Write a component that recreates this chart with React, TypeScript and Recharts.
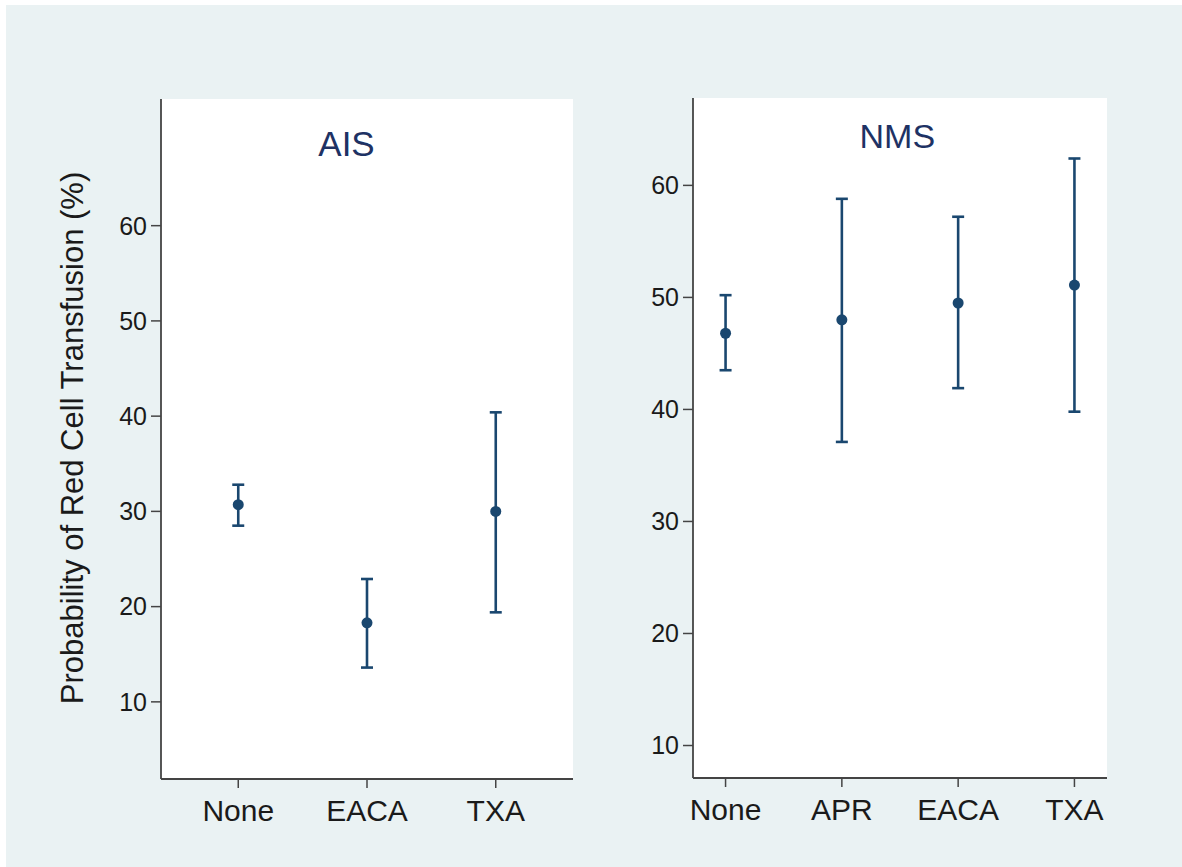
import { ScatterChart, Scatter, XAxis, YAxis, ErrorBar, CartesianGrid } from "recharts";

const aisCategories = ["None", "EACA", "TXA"];
const aisMeans = [30.7, 18.3, 30.0];
const aisLower = [28.5, 13.6, 19.4];
const aisUpper = [32.8, 22.9, 40.4];

const nmsCategories = ["None", "APR", "EACA", "TXA"];
const nmsMeans = [46.8, 48.0, 49.5, 51.1];
const nmsLower = [43.5, 37.1, 41.9, 39.8];
const nmsUpper = [50.2, 58.8, 57.2, 62.4];

const yTicks = [10, 20, 30, 40, 50, 60];

const FONT = "'Liberation Sans', Arial, Helvetica, sans-serif";
const NAVY = "#1a476f";
const AXIS = "#444444";

const buildRows = (means: number[], lower: number[], upper: number[]) =>
  means.map((m, i) => ({
    x: i + 1,
    y: m,
    err: [+(m - lower[i]).toFixed(2), +(upper[i] - m).toFixed(2)],
  }));

const Dot = (props: any) => <circle cx={props.cx} cy={props.cy} r={5.5} fill={NAVY} />;

type PanelProps = {
  categories: string[];
  rows: { x: number; y: number; err: number[] }[];
  xDomain: [number, number];
  yDomain: [number, number];
  left: number;
  width: number;
  top: number;
  bottom: number;
  axisWidth: number;
  right: number;
};

const Panel = ({ categories, rows, xDomain, yDomain, left, width, top, bottom, axisWidth, right }: PanelProps) => (
  <div style={{ position: "absolute", left, top: 0 }}>
    <ScatterChart
      width={width}
      height={867}
      margin={{ top, right, bottom: 867 - bottom - 60, left: 0 }}
    >
      <CartesianGrid fill="#ffffff" horizontal={false} vertical={false} />
      <XAxis
        type="number"
        dataKey="x"
        domain={xDomain}
        ticks={categories.map((_, i) => i + 1)}
        tickFormatter={(v) => categories[v - 1]}
        allowDataOverflow
        height={60}
        axisLine={{ stroke: AXIS, strokeWidth: 1.8 }}
        tickLine={{ stroke: AXIS, strokeWidth: 1.5 }}
        tickSize={9}
        tickMargin={12}
        tick={{ fontSize: 30, fill: "#1a1a1a", fontFamily: FONT }}
      />
      <YAxis
        type="number"
        dataKey="y"
        domain={yDomain}
        ticks={yTicks}
        allowDataOverflow
        width={axisWidth}
        axisLine={{ stroke: AXIS, strokeWidth: 1.8 }}
        tickLine={{ stroke: AXIS, strokeWidth: 1.5 }}
        tickSize={10}
        tickMargin={4}
        tick={{ fontSize: 25, fill: "#1a1a1a", fontFamily: FONT }}
      />
      <Scatter data={rows} fill={NAVY} shape={Dot} isAnimationActive={false}>
        <ErrorBar dataKey="err" direction="y" width={6} stroke={NAVY} strokeWidth={2.6} />
      </Scatter>
    </ScatterChart>
  </div>
);

export default function App() {
  return (
    <div style={{ position: "absolute", left: 0, top: 0, width: 1182, height: 867, background: "#ffffff", overflow: "hidden" }}>
      <div style={{ position: "absolute", left: 6, top: 5, width: 1176, height: 862, background: "#eaf2f3" }} />
      <Panel
        categories={aisCategories}
        rows={buildRows(aisMeans, aisLower, aisUpper)}
        xDomain={[0.4, 3.6]}
        yDomain={[1.9, 73.3]}
        left={0}
        width={600}
        top={99}
        bottom={779}
        axisWidth={161}
        right={27}
      />
      <Panel
        categories={nmsCategories}
        rows={buildRows(nmsMeans, nmsLower, nmsUpper)}
        xDomain={[0.72, 4.28]}
        yDomain={[7.1, 67.8]}
        left={600}
        width={582}
        top={98}
        bottom={778}
        axisWidth={93}
        right={75}
      />
      <svg width={1182} height={867} style={{ position: "absolute", left: 0, top: 0, pointerEvents: "none" }}>
        <text x={346.5} y={155.7} textAnchor="middle" fontSize={35} fill="#1e3264" fontFamily={FONT}>
          AIS
        </text>
        <text x={897.3} y={148.3} textAnchor="middle" fontSize={34} fill="#1e3264" fontFamily={FONT}>
          NMS
        </text>
        <text
          x={0}
          y={0}
          transform="translate(83 438) rotate(-90)"
          textAnchor="middle"
          fontSize={31}
          fill="#1a1a1a"
          fontFamily={FONT}
        >
          Probability of Red Cell Transfusion (%)
        </text>
      </svg>
    </div>
  );
}
